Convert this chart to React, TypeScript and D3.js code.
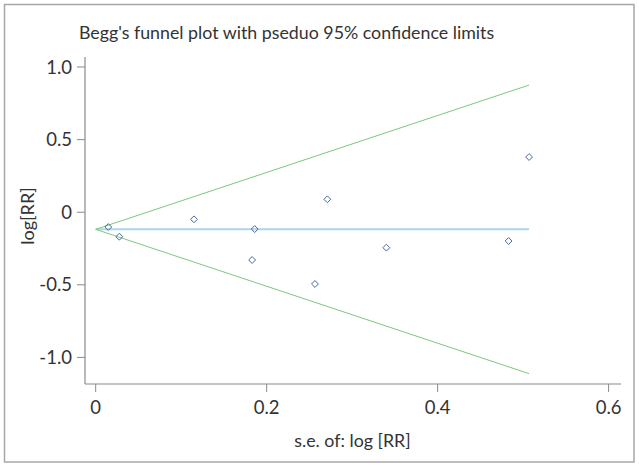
import React from "react";
import * as d3 from "d3";

const W = 639;
const H = 468;

const title = "Begg's funnel plot with pseduo 95% confidence limits";
const xTitle = "s.e. of: log [RR]";
const yTitle = "log[RR]";

const seValues = [0.0147, 0.0276, 0.115, 0.183, 0.186, 0.2565, 0.271, 0.34, 0.483, 0.507];
const logRR = [-0.102, -0.169, -0.049, -0.329, -0.116, -0.494, 0.089, -0.244, -0.198, 0.38];
const pooled = -0.118;
const z = 1.96;
const xTicks = [0, 0.2, 0.4, 0.6];
const xTickLabels = ["0", "0.2", "0.4", "0.6"];
const yTicks = [1, 0.5, 0, -0.5, -1];
const yTickLabels = ["1.0", "0.5", "0", "-0.5", "-1.0"];

const FONT = "Lato, 'Noto Sans', sans-serif";

export default function App() {
  const x = d3.scaleLinear().domain([-0.0125, 0.6145]).range([85, 621]);
  const y = d3.scaleLinear().domain([-1.183, 1.069]).range([384, 57]);
  const [xMin, xMax] = x.domain();
  const [yMin, yMax] = y.domain();
  const seMax = d3.max(seValues) as number;

  const line = d3
    .line<[number, number]>()
    .x((d) => x(d[0]))
    .y((d) => y(d[1]));

  const upper = line([
    [0, pooled],
    [seMax, pooled + z * seMax],
  ]);
  const lower = line([
    [0, pooled],
    [seMax, pooled - z * seMax],
  ]);
  const mid = line([
    [0, pooled],
    [seMax, pooled],
  ]);

  const diamond = d3.symbol().type(d3.symbolDiamond2).size(30)();

  return (
    <svg
      width={W}
      height={H}
      style={{ position: "absolute", left: 0, top: 0, background: "#fff" }}
      fontFamily={FONT}
    >
      <rect x={0} y={0} width={W} height={H} fill="#fff" />
      <rect x={4.5} y={4.5} width={629.5} height={457.5} fill="none" stroke="#a8a8a8" strokeWidth={1.5} />
      <text x={79} y={39} fontSize={17.8} fill="#333">
        {title}
      </text>

      {/* axes */}
      <line x1={x(xMin)} x2={x(xMin)} y1={y(yMax)} y2={y(yMin)} stroke="#8a8a8a" strokeWidth={1.2} />
      <line x1={x(xMin)} x2={x(xMax)} y1={y(yMin)} y2={y(yMin)} stroke="#8a8a8a" strokeWidth={1.2} />

      {yTicks.map((t, i) => (
        <g key={"y" + i}>
          <line x1={x(xMin) - 8} x2={x(xMin)} y1={y(t)} y2={y(t)} stroke="#8a8a8a" strokeWidth={1} />
          <text x={72} y={y(t)} dy="0.36em" textAnchor="end" fontSize={18.5} fill="#333">
            {yTickLabels[i]}
          </text>
        </g>
      ))}
      {xTicks.map((t, i) => (
        <g key={"x" + i}>
          <line x1={x(t)} x2={x(t)} y1={y(yMin)} y2={y(yMin) + 8} stroke="#8a8a8a" strokeWidth={1} />
          <text x={x(t)} y={414} textAnchor="middle" fontSize={18.5} fill="#333">
            {xTickLabels[i]}
          </text>
        </g>
      ))}

      <text x={352.5} y={446.5} textAnchor="middle" fontSize={17.8} fill="#333">
        {xTitle}
      </text>
      <text transform="translate(34,216) rotate(-90)" textAnchor="middle" fontSize={18} fill="#333">
        {yTitle}
      </text>

      <path d={mid || ""} fill="none" stroke="#aad6ee" strokeWidth={2} />
      <path d={upper || ""} fill="none" stroke="#7ec87e" strokeWidth={1} />
      <path d={lower || ""} fill="none" stroke="#7ec87e" strokeWidth={1} />

      {seValues.map((s, i) => (
        <path
          key={"p" + i}
          d={diamond || ""}
          transform={`translate(${x(s)},${y(logRR[i])})`}
          fill="none"
          stroke="#4a64a8"
          strokeWidth={1}
        />
      ))}
    </svg>
  );
}
